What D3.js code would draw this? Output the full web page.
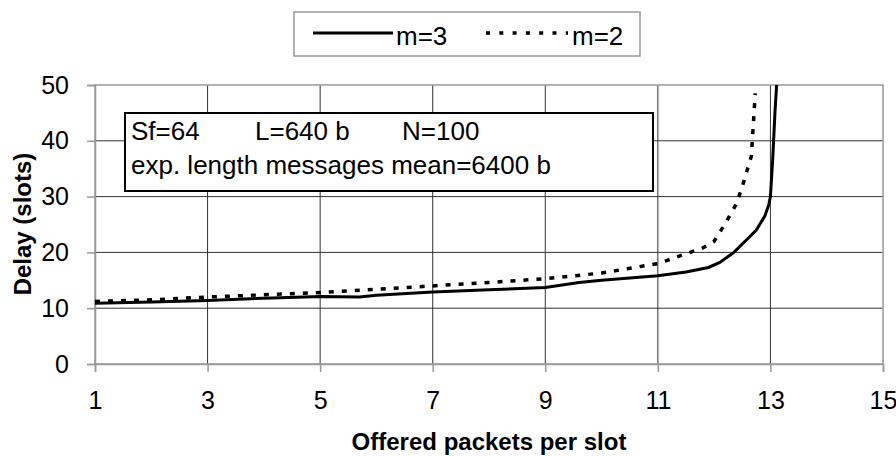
<!DOCTYPE html>
<html>
  <head>
    <meta charset="utf-8" />
    <script src="https://d3js.org/d3.v7.min.js"></script>
    <title>Delay vs offered packets</title>
    <style>
      body { margin: 0; background: #fff; }
      text { font-family: "Liberation Sans", Arial, sans-serif; fill: #000; }
      .grid line { stroke: #333; stroke-width: 1px; }
      .frame { fill: none; stroke: #999; stroke-width: 1.5px; }
    </style>
  </head>
  <body>
    <svg id="chart" width="896" height="456"></svg>
    <script>

// values
var xTicks = [1, 3, 5, 7, 9, 11, 13, 15];
var yTicks = [0, 10, 20, 30, 40, 50];

var m3x = [1, 2, 3, 4, 5, 5.7, 6, 7, 8, 9, 9.6, 10, 11, 11.5, 11.9, 12.1, 12.35, 12.55, 12.75, 12.9, 12.97, 13.0, 13.04, 13.08, 13.11];
var m3y = [10.9, 11.1, 11.4, 11.8, 12.1, 12.0, 12.3, 12.9, 13.3, 13.7, 14.6, 15.0, 15.8, 16.5, 17.3, 18.2, 20.0, 22.0, 24.0, 26.5, 28.5, 30.0, 36.6, 45.0, 50.0];

var m2x = [1, 2, 3, 4, 5, 6, 7, 8, 9, 10, 11, 11.8, 12.0, 12.2, 12.4, 12.5, 12.66, 12.69, 12.73];
var m2y = [11.2, 11.5, 12.0, 12.4, 12.8, 13.4, 14.0, 14.6, 15.3, 16.3, 18.0, 20.8, 22.0, 25.2, 28.8, 31.8, 37.2, 41.9, 48.5];

var seriesNames = ["m=3", "m=2"];
var infoLine1 = ["Sf=64", "L=640 b", "N=100"];
var infoLine2 = "exp. length messages mean=6400 b";

var svg = d3.select("#chart");

var pLeft = 95, pRight = 883, pTop = 85, pBottom = 364;

var x = d3.scaleLinear().domain([1, 15]).range([pLeft, pRight]);
var y = d3.scaleLinear().domain([0, 50]).range([pBottom, pTop]);

// grid
var grid = svg.append("g").attr("class", "grid");
grid.selectAll(".vx")
  .data(xTicks.filter(function(d) { return d > 1 && d < 15; }))
  .enter().append("line")
  .attr("x1", function(d) { return x(d); })
  .attr("x2", function(d) { return x(d); })
  .attr("y1", pTop).attr("y2", pBottom);
grid.selectAll(".hy")
  .data(yTicks.filter(function(d) { return d > 0 && d < 50; }))
  .enter().append("line")
  .attr("x1", pLeft).attr("x2", pRight)
  .attr("y1", function(d) { return y(d); })
  .attr("y2", function(d) { return y(d); });

svg.append("rect").attr("class", "frame")
  .attr("x", pLeft).attr("y", pTop)
  .attr("width", pRight - pLeft).attr("height", pBottom - pTop);

// axes
var xAxis = svg.append("g")
  .attr("transform", "translate(0," + pBottom + ")")
  .call(d3.axisBottom(x).tickValues(xTicks).tickSize(8).tickPadding(19));
var yAxis = svg.append("g")
  .attr("transform", "translate(" + pLeft + ",0)")
  .call(d3.axisLeft(y).tickValues(yTicks).tickSize(8).tickPadding(18));

[xAxis, yAxis].forEach(function(a) {
  a.select(".domain").attr("stroke", "#999").attr("stroke-width", 1.5);
  a.selectAll(".tick line").attr("stroke", "#999").attr("stroke-width", 1.5);
  a.selectAll(".tick text")
    .attr("font-family", "Liberation Sans, Arial, sans-serif")
    .attr("font-size", 25)
    .attr("fill", "#000");
});

// lines
var line = d3.line()
  .x(function(d) { return x(d[0]); })
  .y(function(d) { return y(d[1]); });

svg.append("path")
  .datum(d3.zip(m2x, m2y))
  .attr("d", line)
  .attr("fill", "none")
  .attr("stroke", "#000")
  .attr("stroke-width", 3.5)
  .attr("stroke-dasharray", "5,8");

svg.append("path")
  .datum(d3.zip(m3x, m3y))
  .attr("d", line)
  .attr("fill", "none")
  .attr("stroke", "#000")
  .attr("stroke-width", 3);

// info box
svg.append("rect")
  .attr("x", 125).attr("y", 113)
  .attr("width", 528).attr("height", 78)
  .attr("fill", "#fff").attr("stroke", "#000").attr("stroke-width", 2);

svg.selectAll(".info1")
  .data(infoLine1)
  .enter().append("text")
  .attr("x", function(d, i) { return [131, 255, 402][i]; })
  .attr("y", 140)
  .attr("font-size", 26)
  .text(function(d) { return d; });

svg.append("text")
  .attr("x", 131).attr("y", 174)
  .attr("font-size", 26)
  .text(infoLine2);

// legend
svg.append("rect")
  .attr("x", 294).attr("y", 12)
  .attr("width", 346).attr("height", 44)
  .attr("fill", "#fff").attr("stroke", "#999").attr("stroke-width", 1.5);

var legend = svg.selectAll(".legend")
  .data(seriesNames)
  .enter().append("g")
  .attr("transform", function(d, i) { return "translate(" + [313, 486][i] + ",0)"; });

legend.append("line")
  .attr("x1", 0).attr("x2", function(d, i) { return i ? 82 : 80; })
  .attr("y1", 33).attr("y2", 33)
  .attr("stroke", "#000")
  .attr("stroke-width", function(d, i) { return i ? 3.5 : 3; })
  .attr("stroke-dasharray", function(d, i) { return i ? "4,9.3" : null; });

legend.append("text")
  .attr("x", function(d, i) { return i ? 86 : 83; })
  .attr("y", 45)
  .attr("font-size", 26)
  .text(function(d) { return d; });

// axis titles
svg.append("text")
  .attr("x", (pLeft + pRight) / 2).attr("y", 450)
  .attr("text-anchor", "middle")
  .attr("font-size", 24).attr("font-weight", "bold")
  .text("Offered packets per slot");

svg.append("text")
  .attr("transform", "translate(31,224) rotate(-90)")
  .attr("text-anchor", "middle")
  .attr("font-size", 24).attr("font-weight", "bold")
  .text("Delay (slots)");

    </script>
  </body>
</html>
